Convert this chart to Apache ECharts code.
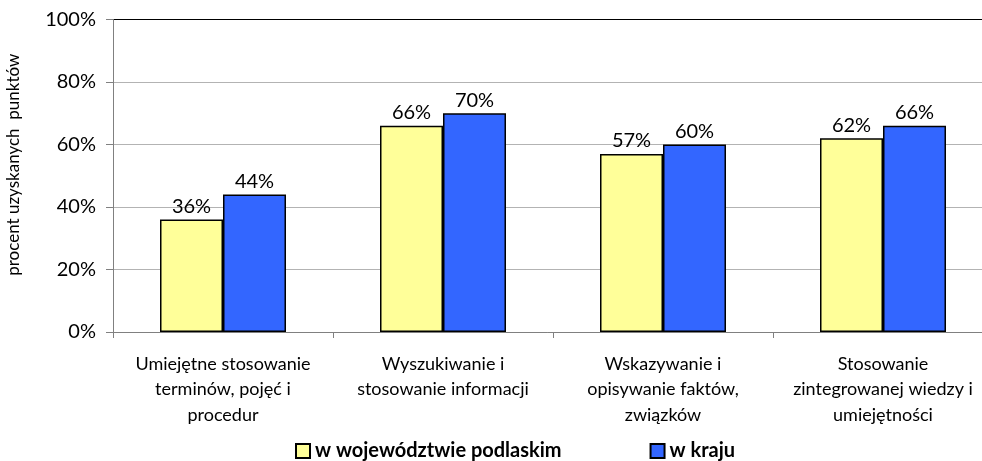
<!DOCTYPE html>
<html>
<head>
<meta charset="utf-8">
<script src="https://cdn.jsdelivr.net/npm/echarts@6/dist/echarts.min.js"></script>
<style>
  html, body { margin: 0; padding: 0; background: #fff; }
  #chart { width: 982px; height: 461px; }
</style>
</head>
<body>
<div id="chart"></div>
<script>
const categories = [
  "Umiejętne stosowanie\nterminów, pojęć i\nprocedur",
  "Wyszukiwanie i\nstosowanie informacji",
  "Wskazywanie i\nopisywanie faktów,\nzwiązków",
  "Stosowanie\nzintegrowanej wiedzy i\numiejętności"
];
const seriesNames = ["w województwie podlaskim", "w kraju"];
const regionValues = [36, 66, 57, 62];
const countryValues = [44, 70, 60, 66];
const yTicks = [0, 20, 40, 60, 80, 100];

const font = "Lato, 'Open Sans', sans-serif";

const chart = echarts.init(document.getElementById("chart"));
chart.setOption({
  animation: false,
  textStyle: { fontFamily: font },
  grid: {
    left: 113,
    right: -11,
    top: 19.5,
    bottom: 129,
    containLabel: false,
    outerBoundsMode: "none",
    show: false
  },
  legend: {
    top: 436,
    left: 290,
    itemGap: 88,
    itemWidth: 14,
    itemHeight: 14,
    icon: "rect",
    textStyle: { fontSize: 20, fontWeight: "bold", color: "#000", fontFamily: font },
    data: seriesNames
  },
  xAxis: {
    type: "category",
    data: categories,
    axisLine: { lineStyle: { color: "#808080", width: 1 } },
    axisTick: { show: true, length: 6, alignWithLabel: false, lineStyle: { color: "#808080" } },
    axisLabel: {
      fontSize: 18,
      color: "#000",
      lineHeight: 25.5,
      margin: 19,
      interval: 0,
      fontFamily: font
    }
  },
  yAxis: {
    type: "value",
    min: yTicks[0],
    max: yTicks[yTicks.length - 1],
    interval: 20,
    name: "procent uzyskanych  punktów",
    nameLocation: "middle",
    nameGap: 91,
    nameTextStyle: { fontSize: 17, color: "#000", fontFamily: font, padding: [0, 0, 0, 22] },
    axisLine: { show: true, lineStyle: { color: "#808080" } },
    axisTick: { show: true, length: 7, lineStyle: { color: "#808080" } },
    axisLabel: {
      fontSize: 20,
      color: "#000",
      margin: 17,
      formatter: "{value}%",
      fontFamily: font
    },
    splitLine: {
      lineStyle: { color: ["#b3b3b3", "#b3b3b3", "#b3b3b3", "#b3b3b3", "#b3b3b3", "#000"] }
    }
  },
  series: [
    {
      name: seriesNames[0],
      type: "bar",
      data: regionValues,
      barWidth: 63,
      barGap: "0%",
      itemStyle: { color: "#FFFF99", borderColor: "#000", borderWidth: 1.5 },
      label: {
        show: true,
        position: "top",
        distance: 3,
        formatter: "{c}%",
        fontSize: 20,
        color: "#000",
        fontFamily: font
      }
    },
    {
      name: seriesNames[1],
      type: "bar",
      data: countryValues,
      barWidth: 63,
      barGap: "0%",
      itemStyle: { color: "#3366FF", borderColor: "#000", borderWidth: 1.5 },
      label: {
        show: true,
        position: "top",
        distance: 3,
        formatter: "{c}%",
        fontSize: 20,
        color: "#000",
        fontFamily: font
      }
    }
  ]
});
</script>
</body>
</html>
